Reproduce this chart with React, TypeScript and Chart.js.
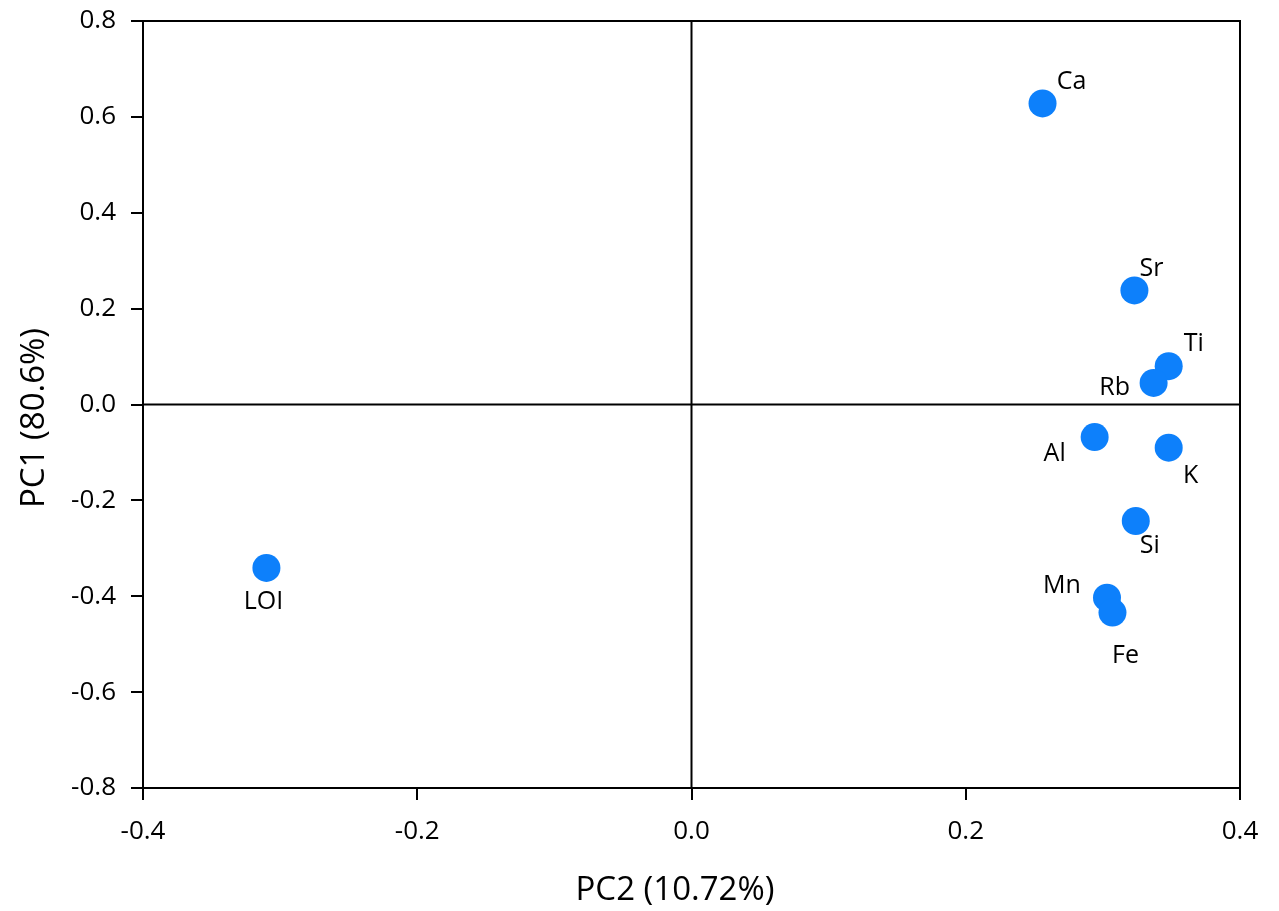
import React, { useEffect, useRef } from "react";
import { Chart, registerables } from "chart.js";

Chart.register(...registerables);

const elements = ["Ca", "Sr", "Ti", "Rb", "Al", "K", "Si", "Mn", "Fe", "LOI"];
const pc2Values = [0.256, 0.323, 0.348, 0.337, 0.294, 0.348, 0.324, 0.303, 0.307, -0.31];
const pc1Values = [0.628, 0.238, 0.08, 0.045, -0.068, -0.09, -0.243, -0.403, -0.434, -0.341];
const xTicks = [-0.4, -0.2, 0.0, 0.2, 0.4];
const yTicks = [-0.8, -0.6, -0.4, -0.2, 0.0, 0.2, 0.4, 0.6, 0.8];
const xTitle = "PC2 (10.72%)";
const yTitle = "PC1 (80.6%)";

// label placement relative to each marker (pixels)
const labelOffsets: [number, number][] = [
  [29, -22], [17, -22], [25, -22], [-39, 5], [-40, 17],
  [22, 28], [14, 25], [-45, -12], [13, 43], [-3, 34],
];

const FONT = "'Open Sans', 'DejaVu Sans', sans-serif";

const fmt = (v: number) => (Math.abs(v) < 1e-9 ? "0.0" : v.toFixed(1));

const decorPlugin = {
  id: "decor",
  beforeDatasetsDraw(chart: any) {
    const { ctx, chartArea, scales } = chart;
    const x0 = scales.x.getPixelForValue(0);
    const y0 = scales.y.getPixelForValue(0);
    ctx.save();
    ctx.strokeStyle = "#000";
    ctx.lineWidth = 2;
    ctx.beginPath();
    ctx.moveTo(chartArea.left, chartArea.top);
    ctx.lineTo(chartArea.right, chartArea.top);
    ctx.lineTo(chartArea.right, chartArea.bottom);
    ctx.moveTo(x0, chartArea.top);
    ctx.lineTo(x0, chartArea.bottom);
    ctx.moveTo(chartArea.left, y0);
    ctx.lineTo(chartArea.right, y0);
    ctx.stroke();
    ctx.restore();
  },
  afterDatasetsDraw(chart: any) {
    const { ctx } = chart;
    const meta = chart.getDatasetMeta(0);
    ctx.save();
    ctx.fillStyle = "#000";
    ctx.font = `25px ${FONT}`;
    ctx.textAlign = "center";
    ctx.textBaseline = "middle";
    meta.data.forEach((pt: any, i: number) => {
      const [dx, dy] = labelOffsets[i];
      ctx.fillText(elements[i], pt.x + dx, pt.y + dy);
    });
    // axis titles
    ctx.font = `33px ${FONT}`;
    ctx.textBaseline = "alphabetic";
    ctx.fillText(xTitle, 675, 900);
    ctx.translate(44, 418);
    ctx.rotate(-Math.PI / 2);
    ctx.fillText(yTitle, 0, 0);
    ctx.restore();
  },
};

export default function App() {
  const ref = useRef<HTMLCanvasElement | null>(null);
  useEffect(() => {
    if (!ref.current) return;
    const data = elements.map((_, i) => ({ x: pc2Values[i], y: pc1Values[i] }));
    const chart = new Chart(ref.current, {
      type: "scatter",
      data: {
        datasets: [
          {
            data,
            pointRadius: 14,
            pointHoverRadius: 14,
            backgroundColor: "#0d80fb",
            borderWidth: 0,
          },
        ],
      },
      options: {
        responsive: false,
        animation: false,
        events: [],
        layout: { padding: { left: 0, top: 21, right: 39, bottom: 0 } },
        plugins: { legend: { display: false }, tooltip: { enabled: false } },
        scales: {
          x: {
            type: "linear",
            min: -0.4,
            max: 0.4,
            afterFit(scale: any) {
              scale.height = 123;
              scale.paddingLeft = 0;
              scale.paddingRight = 0;
            },
            afterBuildTicks(scale: any) {
              scale.ticks = xTicks.map((v) => ({ value: v }));
            },
            ticks: {
              callback: (v: any) => fmt(Number(v)),
              color: "#000",
              font: { family: FONT, size: 26 },
              padding: 16,
              maxRotation: 0,
            },
            grid: { drawOnChartArea: false, tickLength: 12, color: "#000", lineWidth: 2 },
            border: { display: true, color: "#000", width: 2 },
          },
          y: {
            type: "linear",
            min: -0.8,
            max: 0.8,
            afterFit(scale: any) {
              scale.width = 143;
              scale.paddingTop = 0;
              scale.paddingBottom = 0;
            },
            afterBuildTicks(scale: any) {
              scale.ticks = yTicks.map((v) => ({ value: v }));
            },
            ticks: {
              callback: (v: any) => fmt(Number(v)),
              color: "#000",
              font: { family: FONT, size: 26 },
              padding: 15,
            },
            grid: { drawOnChartArea: false, tickLength: 12, color: "#000", lineWidth: 2 },
            border: { display: true, color: "#000", width: 2 },
          },
        },
      },
      plugins: [decorPlugin],
    });
    return () => chart.destroy();
  }, []);
  return (
    <div style={{ position: "absolute", left: 0, top: 0, width: 1279, height: 911, background: "#fff" }}>
      <canvas ref={ref} width={1279} height={911} />
    </div>
  );
}
